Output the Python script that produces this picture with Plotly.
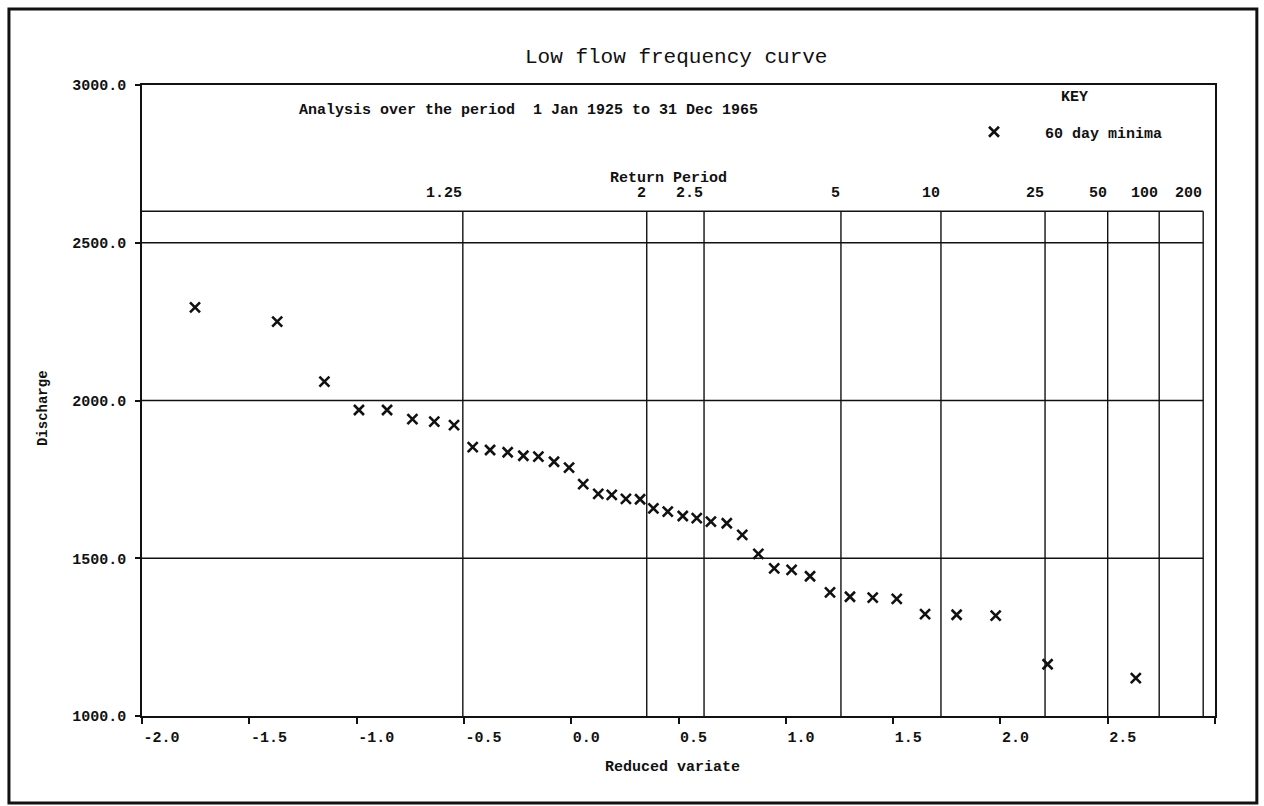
import plotly.graph_objects as go

# ---- data ----
reduced_variate = [-1.753, -1.370, -1.150, -0.989, -0.858, -0.740, -0.638, -0.546, -0.459, -0.378,
                   -0.296, -0.223, -0.153, -0.080, -0.010, 0.056, 0.126, 0.189, 0.255, 0.321,
                   0.383, 0.450, 0.520, 0.585, 0.651, 0.725, 0.797, 0.872, 0.946, 1.027,
                   1.113, 1.206, 1.299, 1.405, 1.517, 1.649, 1.796, 1.978, 2.220, 2.631]
discharge = [2295, 2250, 2060, 1970, 1970, 1941, 1933, 1922, 1852, 1843,
             1836, 1825, 1822, 1806, 1787, 1735, 1704, 1701, 1688, 1687,
             1658, 1648, 1634, 1627, 1616, 1611, 1574, 1514, 1468, 1463,
             1443, 1392, 1378, 1375, 1371, 1323, 1321, 1318, 1164, 1120]

return_period_labels = ["1.25", "2", "2.5", "5", "10", "25", "50", "100", "200"]
return_period_variate = [-0.505, 0.352, 0.619, 1.257, 1.723, 2.208, 2.500, 2.740, 2.945]

x_tick_vals = [-2.0, -1.5, -1.0, -0.5, 0.0, 0.5, 1.0, 1.5, 2.0, 2.5, 3.0]
x_tick_text = ["-2.0", "-1.5", "-1.0", "-0.5", "0.0", "0.5", "1.0", "1.5", "2.0", "2.5", ""]
y_tick_vals = [1000, 1500, 2000, 2500, 3000]
y_tick_text = ["1000.0", "1500.0", "2000.0", "2500.0", "3000.0"]
grid_discharge = [1500, 2000, 2500]
return_box_top = 2600

x_range = [-2.0, 3.0]
y_range = [1000, 3000]

FONT = "Liberation Mono"
BLACK = "#111111"

fig = go.Figure()
fig.add_trace(go.Scatter(
    x=reduced_variate, y=discharge, mode="markers", name="60 day minima",
    marker=dict(symbol="x-thin", size=10, line=dict(width=2.6, color=BLACK), color=BLACK),
    showlegend=True,
))

shapes = []
# horizontal grid lines + return period box top
for yv in grid_discharge + [return_box_top]:
    shapes.append(dict(type="line", xref="x", yref="y", x0=x_range[0], x1=return_period_variate[-1],
                       y0=yv, y1=yv, line=dict(color=BLACK, width=1.4)))
# return period vertical lines
for xv in return_period_variate:
    shapes.append(dict(type="line", xref="x", yref="y", x0=xv, x1=xv,
                       y0=y_range[0], y1=return_box_top, line=dict(color=BLACK, width=1.4)))
# outer frame
shapes.append(dict(type="rect", xref="paper", yref="paper", x0=-0.124, x1=1.039, y0=-0.138, y1=1.1204,
                   line=dict(color=BLACK, width=3)))

annotations = []
annotations.append(dict(text="Low flow frequency curve", x=0.4977, y=1.0428, xref="paper", yref="paper",
                        showarrow=False, xanchor="center", yanchor="middle",
                        font=dict(family=FONT, size=21, color=BLACK)))
annotations.append(dict(text="Analysis over the period  1 Jan 1925 to 31 Dec 1965", x=0.1445, y=0.959,
                        xref="paper", yref="paper", showarrow=False, xanchor="left", yanchor="middle",
                        font=dict(family=FONT, size=15, color=BLACK, weight="bold")))
annotations.append(dict(text="KEY", x=(1074 - 142) / 1073, y=(716 - 98) / 631, xref="paper", yref="paper",
                        showarrow=False, xanchor="center", yanchor="middle",
                        font=dict(family=FONT, size=15, color=BLACK, weight="bold")))
annotations.append(dict(text="Return Period", x=0.491, y=0.8526, xref="paper", yref="paper",
                        showarrow=False, xanchor="center", yanchor="middle",
                        font=dict(family=FONT, size=15, color=BLACK, weight="bold")))
for lab, xv in zip(return_period_labels, return_period_variate):
    annotations.append(dict(text=lab, x=xv, y=0.8288, xref="x", yref="paper", showarrow=False,
                            xanchor="right", yanchor="middle", xshift=1,
                            font=dict(family=FONT, size=15, color=BLACK, weight="bold")))
annotations.append(dict(text="Discharge", x=-0.0923, y=0.488, xref="paper", yref="paper", showarrow=False,
                        textangle=-90, xanchor="center", yanchor="middle",
                        font=dict(family=FONT, size=14, color=BLACK, weight="bold")))
annotations.append(dict(text="Reduced variate", x=0.494, y=-0.0824, xref="paper", yref="paper",
                        showarrow=False, xanchor="center", yanchor="middle",
                        font=dict(family=FONT, size=15, color=BLACK, weight="bold")))

axis_common = dict(showgrid=False, zeroline=False, showline=True, linecolor=BLACK, linewidth=1.6,
                   mirror=True, ticks="outside", tickcolor=BLACK, tickwidth=1.6,
                   tickfont=dict(family=FONT, size=15, color=BLACK, weight="bold"))

fig.update_layout(
    width=1264, height=806,
    margin=dict(l=142, r=49, t=85, b=90),
    paper_bgcolor="white", plot_bgcolor="white",
    xaxis=dict(range=x_range, tickvals=x_tick_vals, ticktext=x_tick_text, ticklen=6,
               ticklabelposition="outside right", ticklabelstandoff=6, **axis_common),
    yaxis=dict(range=y_range, tickvals=y_tick_vals, ticktext=y_tick_text, ticklen=5,
               ticklabelstandoff=6, **axis_common),
    shapes=shapes,
    annotations=annotations,
    legend=dict(x=(943 - 142) / 1073, y=(716 - 132) / 631, xanchor="left", yanchor="middle",
                itemwidth=92, bgcolor="rgba(0,0,0,0)",
                font=dict(family=FONT, size=15, color=BLACK, weight="bold")),
)

fig.write_html("out.html")
